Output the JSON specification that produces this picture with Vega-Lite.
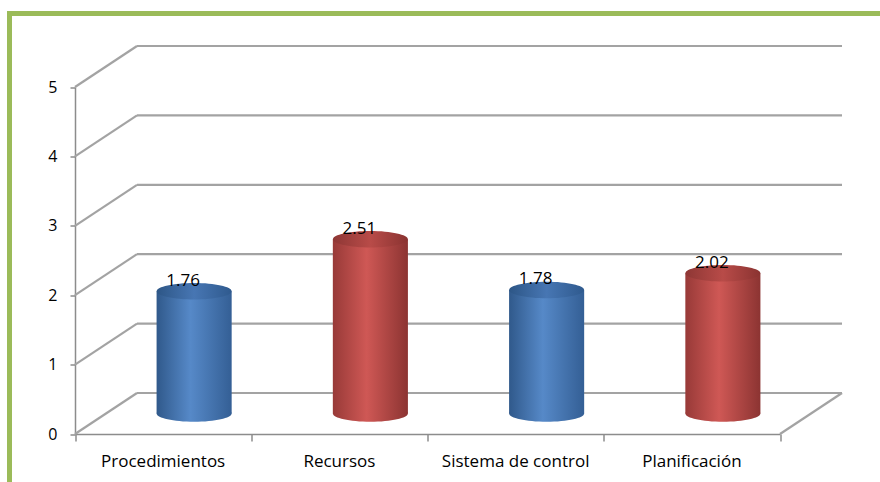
{
  "$schema": "https://vega.github.io/schema/vega-lite/v6.json",
  "autosize": {"type": "none"},
  "width": 870.5,
  "height": 468.5,
  "padding": {"left": 9.5, "top": 13.5, "right": 0, "bottom": 0},
  "background": "white",
  "config": {
    "font": "Open Sans",
    "view": {"stroke": "#9BBB59", "strokeWidth": 5, "strokeDash": [870.5, 1339, 500], "strokeCap": "square"},
    "axis": {"labelColor": "#000000", "labelFont": "Open Sans", "grid": false, "title": null}
  },
  "datasets": {
    "valores": [
      {"aspecto": "Procedimientos", "media": 1.76},
      {"aspecto": "Recursos", "media": 2.51},
      {"aspecto": "Sistema de control", "media": 1.78},
      {"aspecto": "Planificación", "media": 2.02}
    ],
    "niveles": [
      {"nivel": 0}, {"nivel": 1}, {"nivel": 2}, {"nivel": 3}, {"nivel": 4}, {"nivel": 5}
    ]
  },
  "layer": [
    {
      "data": {"name": "niveles"},
      "layer": [
        {
          "mark": {"type": "rule", "color": "#a3a3a3", "strokeWidth": 2.2, "xOffset": 62, "x2Offset": 62, "yOffset": -41},
          "encoding": {
            "x": {
              "datum": 0, "type": "quantitative",
              "scale": {"domain": [0, 4], "range": [65.5, 770.5], "nice": false, "zero": false},
              "axis": {"orient": "bottom", "offset": -48, "values": [0, 1, 2, 3, 4], "labels": false, "domain": false, "ticks": true, "tickSize": 7, "tickColor": "#8c8c8c", "tickWidth": 1.5}
            },
            "x2": {"datum": 4},
            "y": {
              "field": "nivel", "type": "quantitative",
              "scale": {"domain": [0, 5], "range": [420.5, 73.5], "nice": false},
              "axis": {"orient": "left", "offset": -65.5, "values": [0, 1, 2, 3, 4, 5], "format": "d", "tickSize": 5, "tickColor": "#8c8c8c", "tickWidth": 1.5, "domainColor": "#8c8c8c", "domainWidth": 1.5, "labelFontSize": 16, "labelPadding": 13}
            }
          }
        },
        {
          "mark": {"type": "rule", "color": "#a3a3a3", "strokeWidth": 2.2, "x2Offset": 62, "y2Offset": -41},
          "encoding": {
            "x": {"datum": 0, "type": "quantitative"},
            "x2": {"datum": 0},
            "y": {"field": "nivel", "type": "quantitative"},
            "y2": {"field": "nivel"}
          }
        },
        {
          "transform": [{"filter": "datum.nivel == 0"}],
          "mark": {"type": "rule", "color": "#a3a3a3", "strokeWidth": 2.2, "x2Offset": 62, "y2Offset": -41},
          "encoding": {
            "x": {"datum": 4, "type": "quantitative"},
            "x2": {"datum": 4},
            "y": {"field": "nivel", "type": "quantitative"},
            "y2": {"field": "nivel"}
          }
        }
      ]
    },
    {
      "data": {"name": "valores"},
      "encoding": {
        "x": {
          "field": "aspecto", "type": "nominal",
          "scale": {"type": "band", "domain": ["Procedimientos", "Recursos", "Sistema de control", "Planificación"], "range": [65.5, 770.5], "paddingInner": 0, "paddingOuter": 0},
          "axis": {"orient": "bottom", "offset": -48, "ticks": false, "domain": true, "domainColor": "#8c8c8c", "domainWidth": 1.5, "labelAngle": 0, "labelFontSize": 17, "labelPadding": 19}
        },
        "y": {"field": "media", "type": "quantitative", "scale": {"domain": [0, 5], "range": [420.5, 73.5], "nice": false}}
      },
      "layer": [
        {
          "transform": [{"filter": {"field": "aspecto", "oneOf": ["Procedimientos", "Sistema de control"]}}],
          "layer": [
            {
              "mark": {
                "type": "point", "shape": "M -1 0 A 1 0.22 0 1 0 1 0 A 1 0.22 0 1 0 -1 0 Z", "size": 5625,
                "filled": true, "opacity": 1, "strokeWidth": 0, "xOffset": 31, "yOffset": -20.5,
                "fill": {"gradient": "linear", "x1": 0, "y1": 0, "x2": 1, "y2": 0, "stops": [
                  {"offset": 0, "color": "#30598b"}, {"offset": 0.45, "color": "#5689c8"}, {"offset": 1, "color": "#345f95"}]}
              },
              "encoding": {"y": {"datum": 0, "type": "quantitative"}}
            },
            {
              "mark": {
                "type": "bar", "width": {"band": 0.426}, "xOffset": 31, "yOffset": -20.5, "y2Offset": -20.5,
                "fill": {"gradient": "linear", "x1": 0, "y1": 0, "x2": 1, "y2": 0, "stops": [
                  {"offset": 0, "color": "#30598b"}, {"offset": 0.45, "color": "#5689c8"}, {"offset": 1, "color": "#345f95"}]}
              }
            },
            {
              "mark": {
                "type": "point", "shape": "M -1 0 A 1 0.22 0 1 0 1 0 A 1 0.22 0 1 0 -1 0 Z", "size": 5625,
                "filled": true, "opacity": 1, "strokeWidth": 0, "xOffset": 31, "yOffset": -20.5,
                "fill": {"gradient": "linear", "x1": 0, "y1": 0, "x2": 1, "y2": 0, "stops": [
                  {"offset": 0, "color": "#2d5686"}, {"offset": 0.5, "color": "#4776b3"}, {"offset": 1, "color": "#2f5a8e"}]}
              }
            }
          ]
        },
        {
          "transform": [{"filter": {"field": "aspecto", "oneOf": ["Recursos", "Planificación"]}}],
          "layer": [
            {
              "mark": {
                "type": "point", "shape": "M -1 0 A 1 0.22 0 1 0 1 0 A 1 0.22 0 1 0 -1 0 Z", "size": 5625,
                "filled": true, "opacity": 1, "strokeWidth": 0, "xOffset": 31, "yOffset": -20.5,
                "fill": {"gradient": "linear", "x1": 0, "y1": 0, "x2": 1, "y2": 0, "stops": [
                  {"offset": 0, "color": "#983a38"}, {"offset": 0.45, "color": "#cf5855"}, {"offset": 1, "color": "#8c3432"}]}
              },
              "encoding": {"y": {"datum": 0, "type": "quantitative"}}
            },
            {
              "mark": {
                "type": "bar", "width": {"band": 0.426}, "xOffset": 31, "yOffset": -20.5, "y2Offset": -20.5,
                "fill": {"gradient": "linear", "x1": 0, "y1": 0, "x2": 1, "y2": 0, "stops": [
                  {"offset": 0, "color": "#983a38"}, {"offset": 0.45, "color": "#cf5855"}, {"offset": 1, "color": "#8c3432"}]}
              }
            },
            {
              "mark": {
                "type": "point", "shape": "M -1 0 A 1 0.22 0 1 0 1 0 A 1 0.22 0 1 0 -1 0 Z", "size": 5625,
                "filled": true, "opacity": 1, "strokeWidth": 0, "xOffset": 31, "yOffset": -20.5,
                "fill": {"gradient": "linear", "x1": 0, "y1": 0, "x2": 1, "y2": 0, "stops": [
                  {"offset": 0, "color": "#8e3735"}, {"offset": 0.5, "color": "#b84b48"}, {"offset": 1, "color": "#8a3331"}]}
              }
            }
          ]
        },
        {
          "mark": {"type": "text", "dx": 20, "dy": -26, "baseline": "alphabetic", "align": "center", "fontSize": 17, "color": "#000000"},
          "encoding": {"text": {"field": "media", "type": "quantitative", "format": ".2f"}}
        }
      ]
    }
  ],
  "resolve": {"scale": {"x": "independent"}, "axis": {"x": "independent"}}
}
